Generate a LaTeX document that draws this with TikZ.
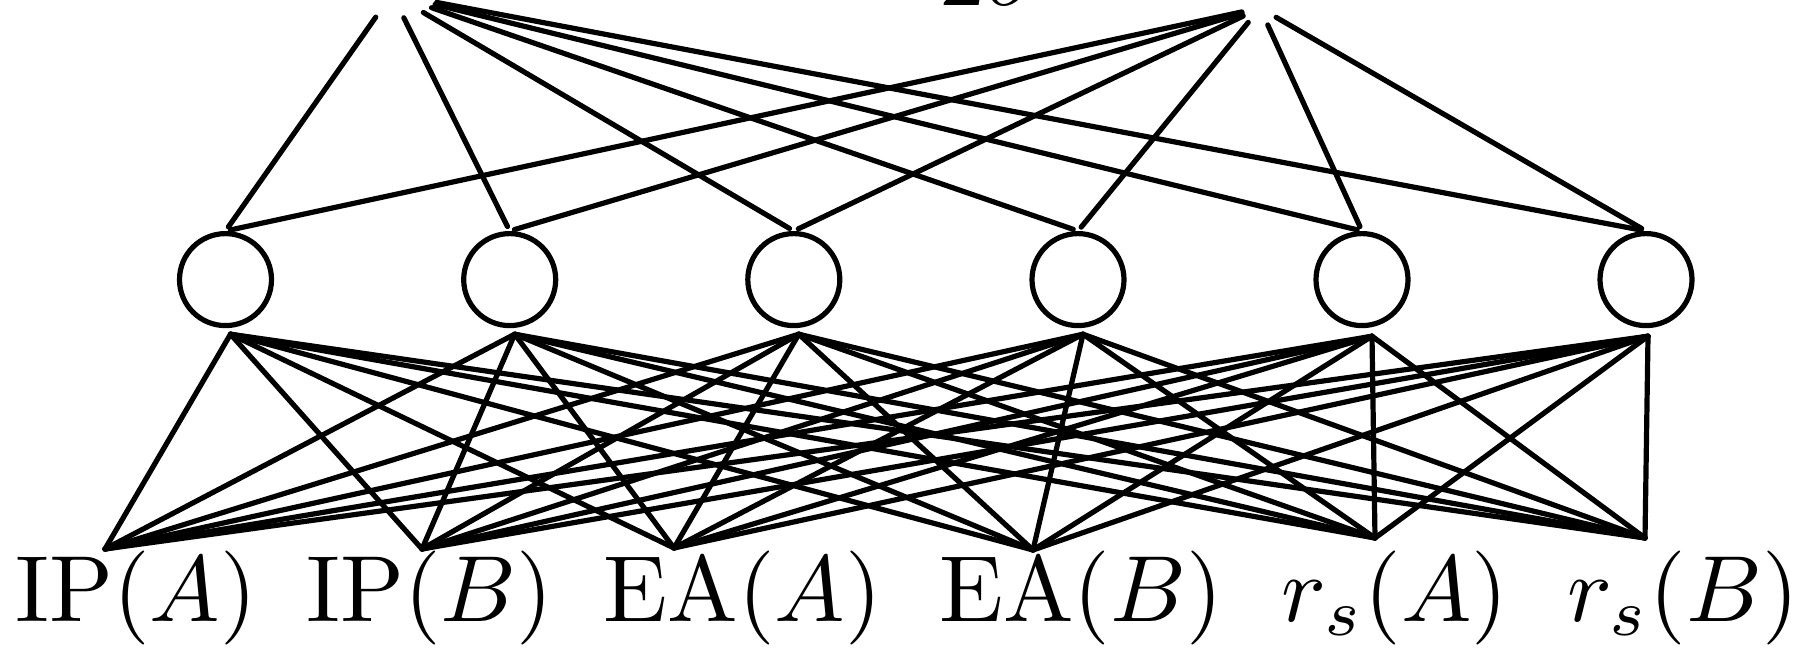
\documentclass[tikz,border=0pt]{standalone}
\usetikzlibrary{shapes.geometric}
\begin{document}
\begin{tikzpicture}[x=1pt,y=-1pt,
  line width=5.2pt, line cap=round,
  hidden/.style={draw, circle, minimum size=92pt, inner sep=0pt},
  outnode/.style={ellipse, inner sep=0pt},
  lab/.style={scale=9.4, inner sep=0pt, anchor=base},
  wire/.style={line width=5.2pt},
  upwire/.style={wire, shorten >=5pt}]
\useasboundingbox (0,0) rectangle (1804,648);

% output nodes (above the visible frame)
\node[outnode, minimum width=90pt, minimum height=44pt] (zl) at (392,-6) {};
\node[outnode, minimum width=32pt, minimum height=32pt] (zr) at (1260,8) {};
\node[lab, anchor=base west] (zlt) at (915,5) {$2\sigma$};
\node[lab, anchor=base west] (zrt) at (1779,4) {$2$};

% hidden layer
\foreach \i/\x in {1/225.5, 2/509.7, 3/793.8, 4/1078, 5/1362, 6/1646}
  \node[hidden] (h\i) at (\x,279.6) {};

% input labels
\node[lab] (ipa) at (136,621) {$\mathrm{IP}(A)$};
\node[lab] (ipb) at (430,621) {$\mathrm{IP}(B)$};
\node[lab] (eaa) at (743,621) {$\mathrm{EA}(A)$};
\node[lab] (eab) at (1081,621) {$\mathrm{EA}(B)$};
\node[lab] (rsa) at (1395,621) {$r_s(A)$};
\node[lab] (rsb) at (1683,621) {$r_s(B)$};

% connection points on top of the input labels
\coordinate (ipa-in) at (105,549);
\coordinate (ipb-in) at (422,549);
\coordinate (eaa-in) at (674,548);
\coordinate (eab-in) at (1033,550);
\coordinate (rsa-in) at (1375,538);
\coordinate (rsb-in) at (1645,538);

% start points below the hidden units
\foreach \i in {1,...,4}
  \coordinate (h\i-out) at ([xshift=5pt,yshift=-6pt]h\i.south);
\coordinate (h5-out) at ([xshift=10pt,yshift=-8pt]h5.south);
\coordinate (h6-out) at ([xshift=2pt,yshift=-8pt]h6.south);

% hidden -> output
\foreach \i in {1,...,6} {
  \draw[upwire] (zl) -- (h\i.north);
  \draw[upwire] (zr) -- (h\i.north);
}

% input -> hidden
\foreach \i in {1,...,6}
  \foreach \t in {ipa,ipb,eaa,eab,rsa,rsb}
    \draw[wire] (h\i-out) -- (\t-in);
\end{tikzpicture}
\end{document}
